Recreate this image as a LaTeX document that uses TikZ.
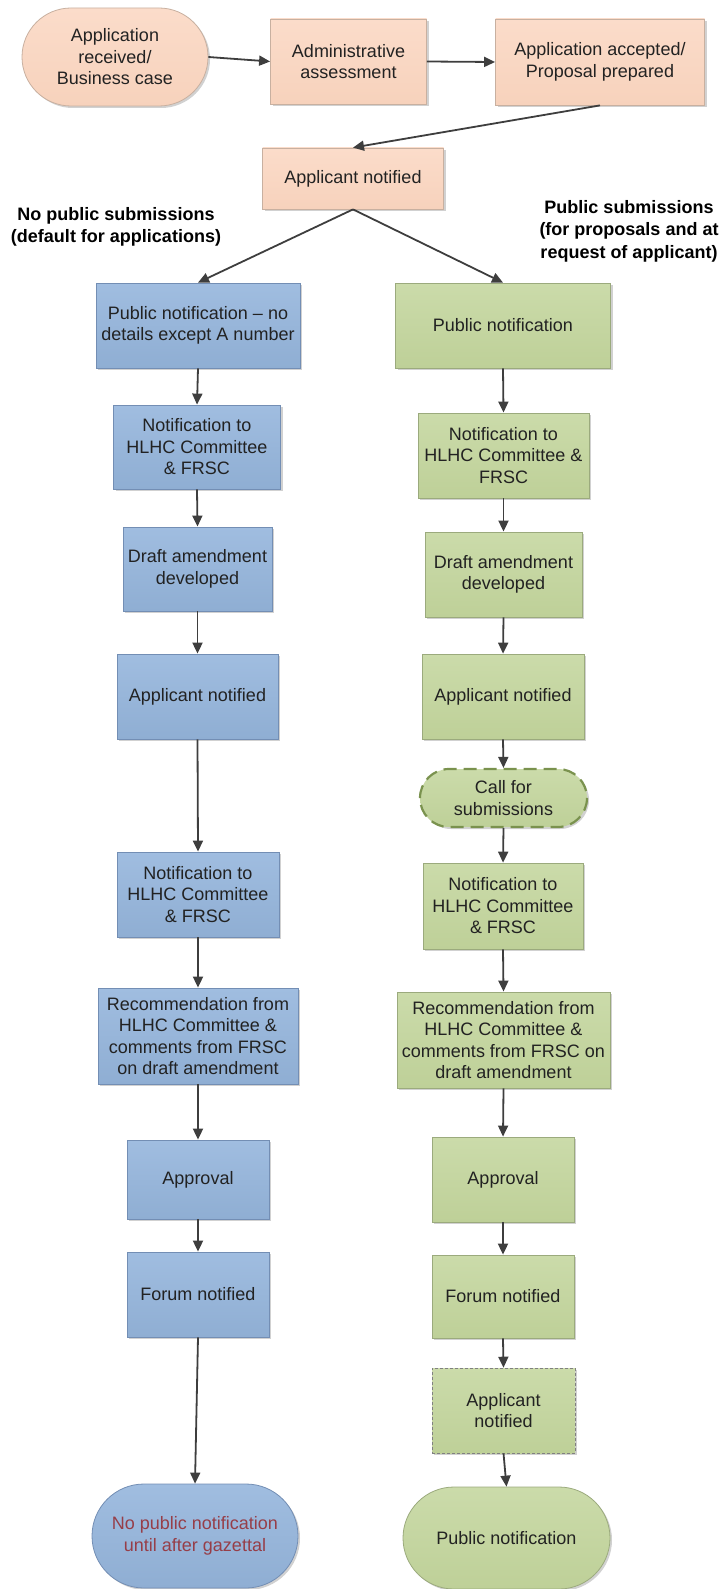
\documentclass[tikz,border=0pt]{standalone}
\usepackage{fontspec}
\setmainfont{Liberation Sans}
\usetikzlibrary{arrows.meta,shapes.misc,shadows}

\definecolor{peachtop}{RGB}{251,220,202}
\definecolor{peachfill}{RGB}{247,210,188}
\definecolor{peachline}{RGB}{200,176,160}
\definecolor{bluetop}{RGB}{160,189,224}
\definecolor{bluefill}{RGB}{143,174,211}
\definecolor{blueline}{RGB}{115,142,180}
\definecolor{greentop}{RGB}{203,219,170}
\definecolor{greenfill}{RGB}{190,208,152}
\definecolor{greenline}{RGB}{155,170,125}
\definecolor{olivedash}{RGB}{122,146,78}
\definecolor{arrowgray}{RGB}{62,62,62}
\definecolor{textdark}{RGB}{34,34,34}
\definecolor{maroontext}{RGB}{150,62,72}

\tikzset{
  box/.style={rectangle, draw, line width=0.8pt, align=center, inner sep=0pt,
    font=\fontsize{18}{21.5}\selectfont, text=textdark,
    drop shadow={shadow xshift=2pt, shadow yshift=-2pt, fill=black, opacity=0.18}},
  sz/.style 2 args={minimum width=#1pt, minimum height=#2pt},
  peachbox/.style={box, top color=peachtop, bottom color=peachfill, draw=peachline},
  bluebox/.style={box, top color=bluetop, bottom color=bluefill, draw=blueline},
  greenbox/.style={box, top color=greentop, bottom color=greenfill, draw=greenline},
  terminal/.style={rounded rectangle, rounded rectangle arc length=180},
  heading/.style={align=center, inner sep=0pt, font=\bfseries\fontsize{18}{22.5}\selectfont, text=black},
  arr/.style={draw=arrowgray, line width=1.8pt, -{Triangle[length=11pt,width=10pt]}}
}

\begin{document}
\begin{tikzpicture}[x=1pt, y=-1pt]
\useasboundingbox (0,0) rectangle (724,1589);

% top row
\node[peachbox, terminal, sz={186}{98}] (start) at (115,57) {Application\\received/\\Business case};
\node[peachbox, sz={156}{85}] (admin) at (348.5,61.5) {Administrative\\assessment};
\node[peachbox, sz={209}{86}] (acc) at (600,62) {Application accepted/\\Proposal prepared};
\node[peachbox, sz={181}{61}] (app) at (353,178.5) {Applicant notified};

% branch headings
\node[heading] (headL) at (116,227) {No public submissions\\(default for applications)};
\node[heading] (headR) at (629,231) {Public submissions\\(for proposals and at\\request of applicant)};

% left branch
\node[bluebox, sz={204}{85}] (L1) at (198,325.5) {Public notification – no\\details except A number};
\node[bluebox, sz={167}{84}] (L2) at (197,447) {Notification to\\HLHC Committee\\\& FRSC};
\node[bluebox, sz={149}{84}] (L3) at (197.5,569) {Draft amendment\\developed};
\node[bluebox, sz={161}{85}] (L4) at (197.5,696.5) {Applicant notified};
\node[bluebox, sz={162}{85}] (L5) at (198,894.5) {Notification to\\HLHC Committee\\\& FRSC};
\node[bluebox, sz={200}{96}] (L6) at (198,1036) {Recommendation from\\HLHC Committee \&\\comments from FRSC\\on draft amendment};
\node[bluebox, sz={142}{79}] (L7) at (198,1179.5) {Approval};
\node[bluebox, sz={142}{85}] (L8) at (198,1294.5) {Forum notified};
\node[bluebox, terminal, sz={206}{104}, text=maroontext] (L9) at (195,1536) {No public notification\\until after gazettal};

% right branch
\node[greenbox, sz={215}{85}] (R1) at (503,325.5) {Public notification};
\node[greenbox, sz={171}{85}] (R2) at (503.5,455.5) {Notification to\\HLHC Committee \&\\FRSC};
\node[greenbox, sz={157}{85}] (R3) at (503.5,574.5) {Draft amendment\\developed};
\node[greenbox, sz={162}{85}] (R4) at (503,696.5) {Applicant notified};
\node[greenbox, terminal, sz={167}{58}, draw=olivedash, line width=2.2pt,
      dash pattern=on 13pt off 7pt] (R5) at (503.5,798) {Call for\\submissions};
\node[greenbox, sz={160}{86}] (R6) at (503,906) {Notification to\\HLHC Committee\\\& FRSC};
\node[greenbox, sz={213}{96}] (R7) at (503.5,1040) {Recommendation from\\HLHC Committee \&\\comments from FRSC on\\draft amendment};
\node[greenbox, sz={142}{85}] (R8) at (503,1179.5) {Approval};
\node[greenbox, sz={142}{83}] (R9) at (503,1296.5) {Forum notified};
\node[greenbox, sz={143}{85}, draw=gray, line width=0.6pt, dash pattern=on 3pt off 2pt] (R10) at (503.5,1410.5) {Applicant\\notified};
\node[greenbox, terminal, sz={207}{102}] (R11) at (506.5,1538) {Public notification};

% connectors
\draw[arr] (start.east) -- (admin.west);
\draw[arr] (admin.east) -- (acc.west);
\draw[arr] (acc.south) -- (app.north);
\draw[arr] (app.south) -- (L1.north);
\draw[arr] (app.south) -- (R1.north);

\foreach \a/\b in {L1/L2, L2/L3, L3/L4, L4/L5, L5/L6, L6/L7, L7/L8, L8/L9,
                   R1/R2, R2/R3, R3/R4, R4/R5, R5/R6, R6/R7, R7/R8, R8/R9, R9/R10, R10/R11}
  \draw[arr] (\a.south) -- (\b.north);
\end{tikzpicture}
\end{document}
